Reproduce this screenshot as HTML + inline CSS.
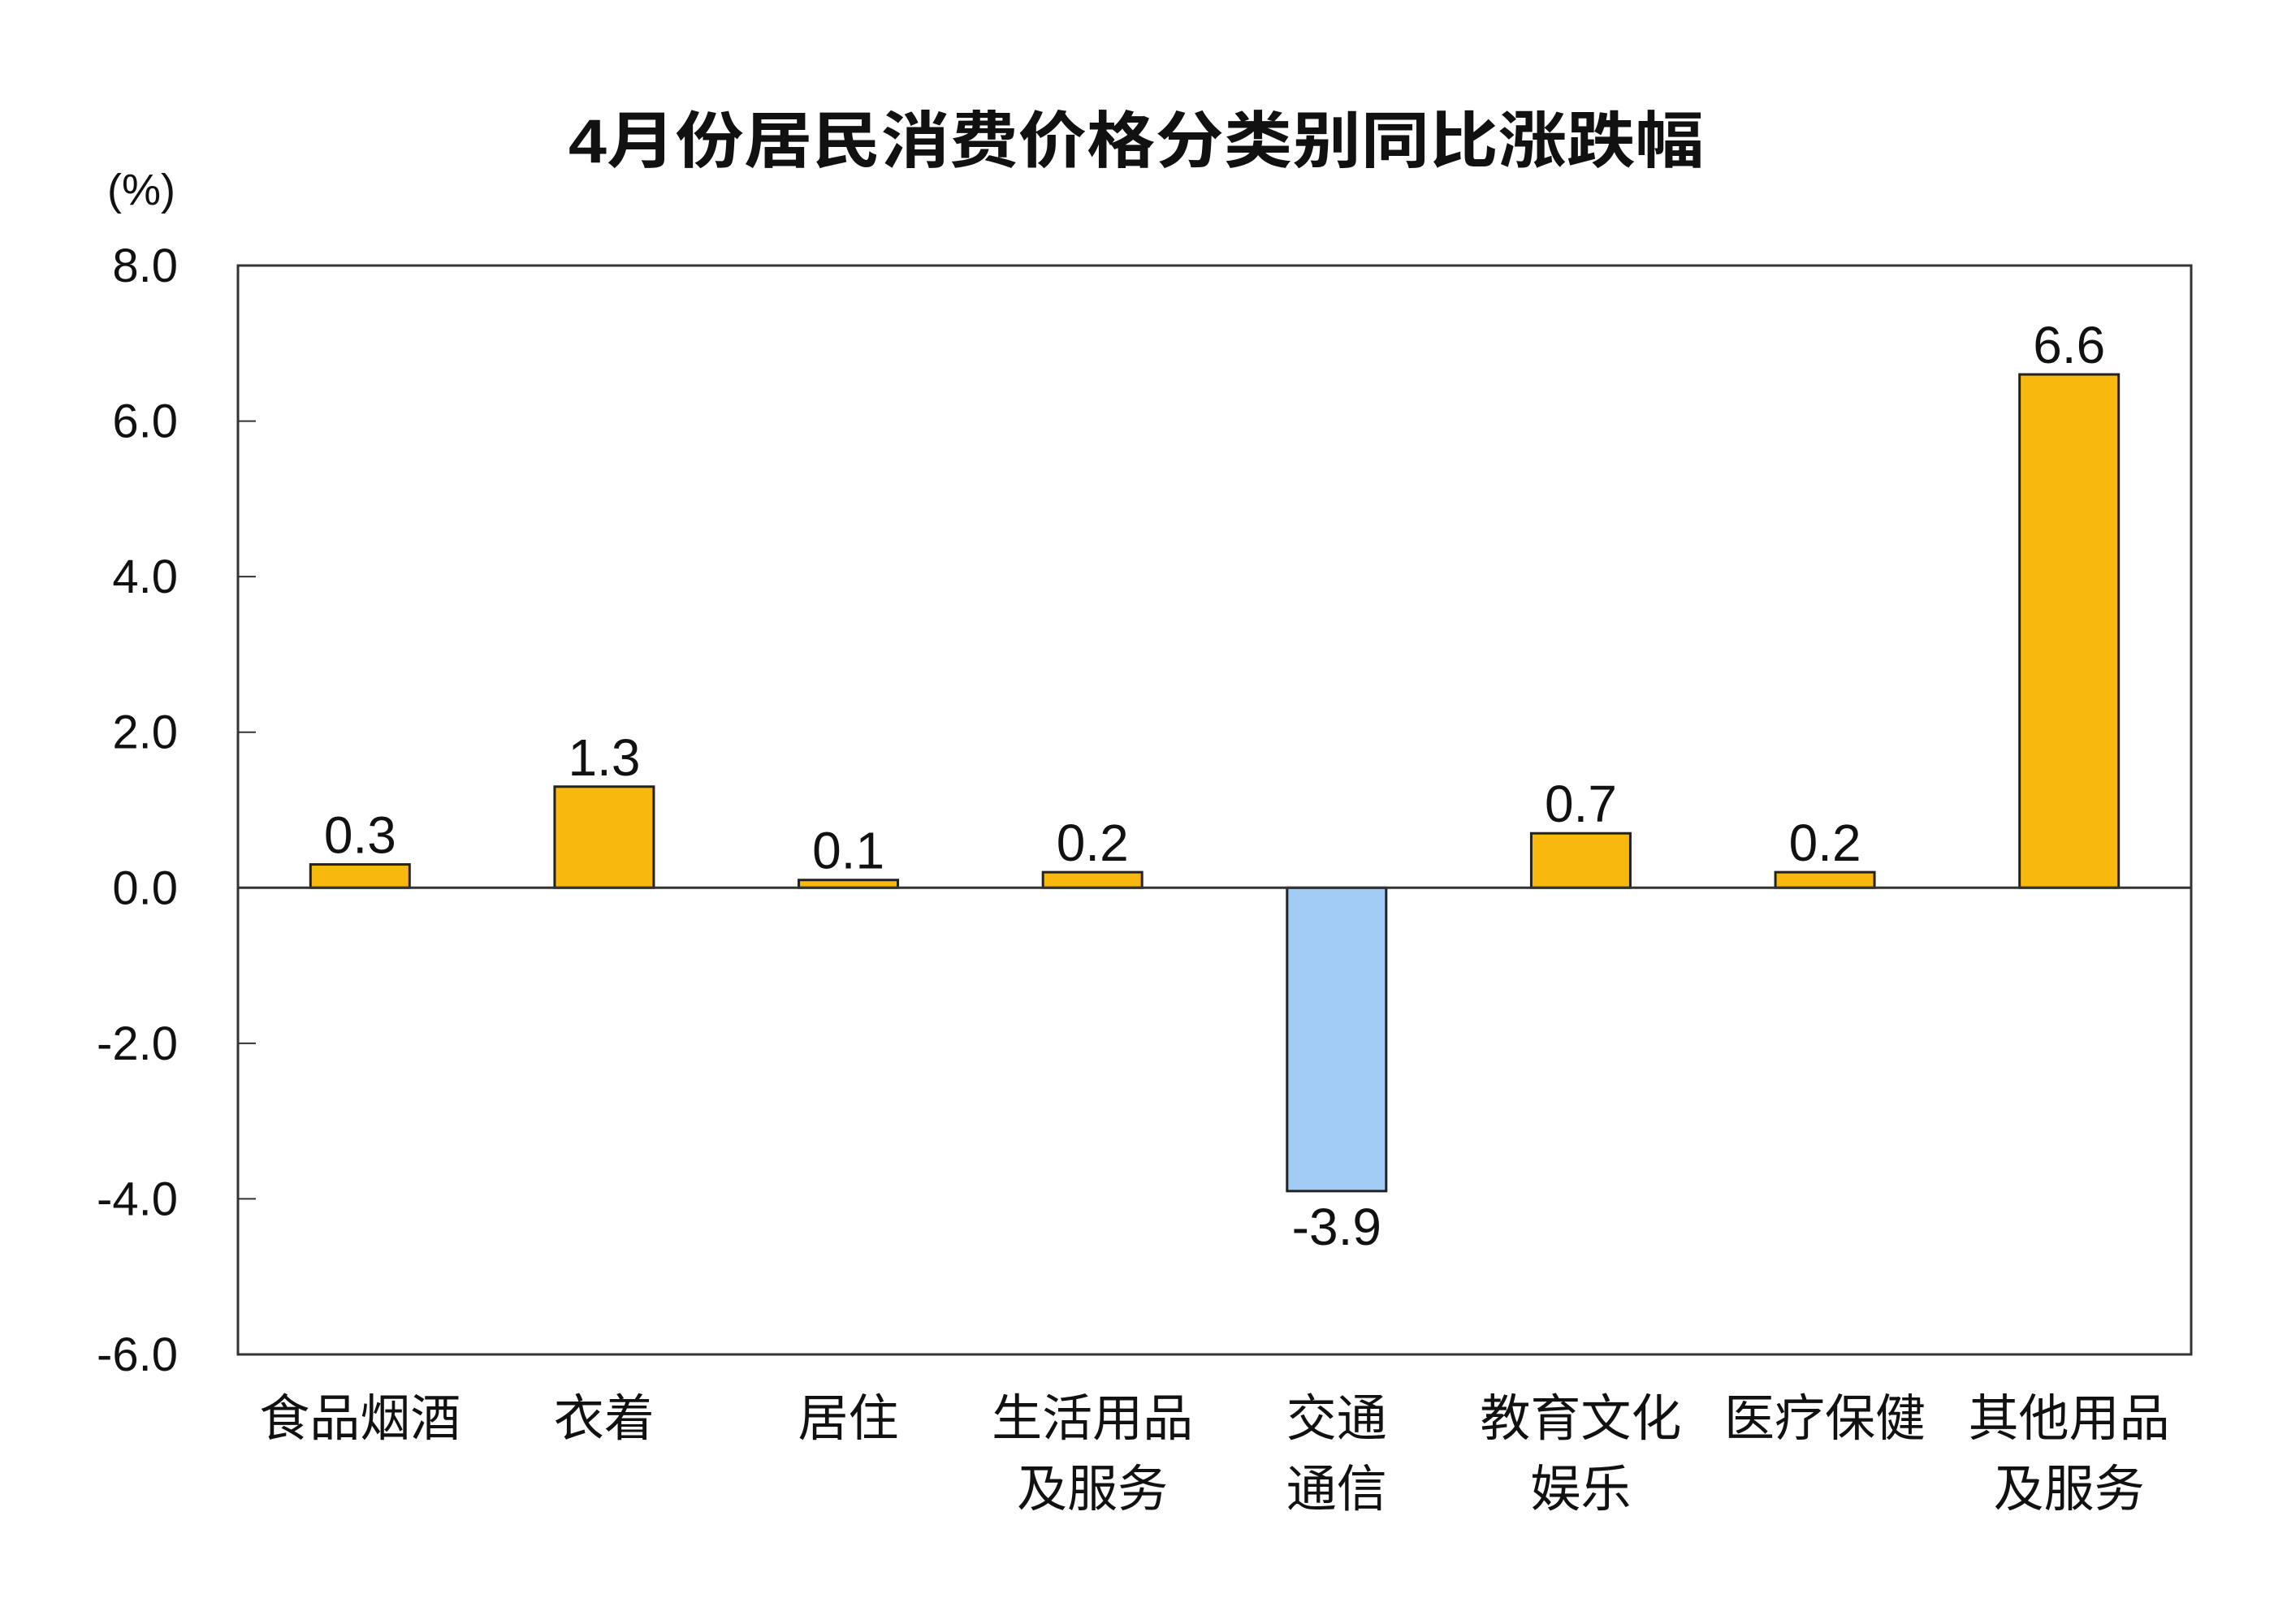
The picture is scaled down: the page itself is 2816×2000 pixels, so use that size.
<!DOCTYPE html>
<html><head><meta charset="utf-8">
<style>
html,body{margin:0;padding:0;background:#fff;}
svg{display:block;}
text{font-family:"Liberation Sans","Noto Sans CJK SC",sans-serif;fill:#111;}
</style></head>
<body>
<svg id="chart" width="2816" height="2000" viewBox="0 0 2816 2000" xmlns="http://www.w3.org/2000/svg">
<rect x="0" y="0" width="2816" height="2000" fill="#fff"/>
<text x="1399" y="200" text-anchor="middle" font-size="76" font-weight="bold" textLength="1398" lengthAdjust="spacingAndGlyphs">4月份居民消费价格分类别同比涨跌幅</text>
<text x="174" y="252" text-anchor="middle" font-size="54">(%)</text>
<g id="plot"></g>
</svg>
<script>
const categories = [["食品烟酒"],["衣着"],["居住"],["生活用品","及服务"],["交通","通信"],["教育文化","娱乐"],["医疗保健"],["其他用品","及服务"]];
const values = [0.3, 1.3, 0.1, 0.2, -3.9, 0.7, 0.2, 6.6];
const valueLabels = ["0.3","1.3","0.1","0.2","-3.9","0.7","0.2","6.6"];
const yTicks = [8, 6, 4, 2, 0, -2, -4, -6];
const yTickLabels = ["8.0","6.0","4.0","2.0","0.0","-2.0","-4.0","-6.0"];

const NS = "http://www.w3.org/2000/svg";
const L = 293, R = 2698, T = 327, B = 1668, yMax = 8, yMin = -6;
function y(v){ return T + (yMax - v) / (yMax - yMin) * (B - T); }
function xCenter(i){ return L + (i + 0.5) * (R - L) / categories.length; }
const g = document.getElementById('plot');
function mk(tag, attrs){ const e = document.createElementNS(NS, tag); for (const k in attrs) e.setAttribute(k, attrs[k]); g.appendChild(e); return e; }

const frame = mk('rect', {x:L, y:T, width:R-L, height:B-T, fill:'none', stroke:'#333', 'stroke-width':3});



yTicks.forEach((t, i) => {
  const ty = y(t);
  if (t !== yMax && t !== yMin) {
    const tk = mk('line', {x1:L, x2:L+22, y1:ty, y2:ty, stroke:'#333', 'stroke-width':2});
    
    
  }
  const lb = mk('text', {x:219, y:ty+20, 'text-anchor':'end', 'font-size':58});
  lb.textContent = yTickLabels[i];
  
  
});

const bw = 122;
values.forEach((v, i) => {
  const cx = xCenter(i);
  const y0 = y(0), yv = y(v);
  const bar = mk('rect', {x:cx-bw/2, y:Math.min(y0,yv), width:bw, height:Math.abs(yv-y0), fill: v >= 0 ? '#F8B80E' : '#A2CCF4', stroke:'#222', 'stroke-width':3});
  
  
  const vl = mk('text', {x:cx, y: v >= 0 ? yv-14 : yv+66, 'text-anchor':'middle', 'font-size':64});
  vl.textContent = valueLabels[i];
  
  
  categories[i].forEach((line, j) => {
    const cl = mk('text', {x:cx, y:1768 + j*87, 'text-anchor':'middle', 'font-size':62});
    cl.textContent = line;
    
    
  });
});

const zl = mk('line', {x1:L, x2:R, y1:y(0), y2:y(0), stroke:'#333', 'stroke-width':3});


</script>
</body></html>
